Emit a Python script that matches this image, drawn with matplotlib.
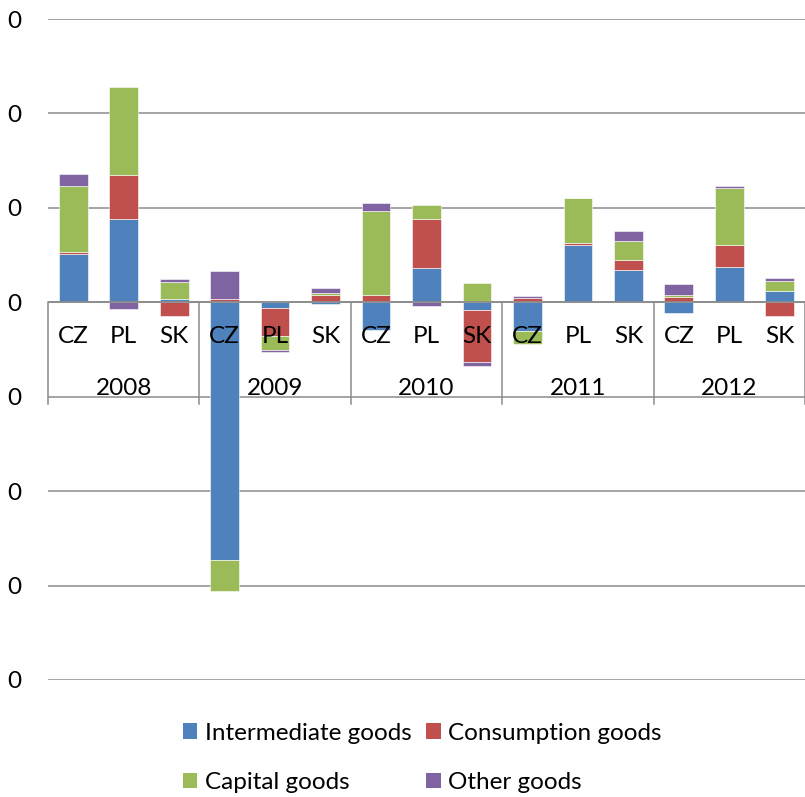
import numpy as np
import matplotlib
matplotlib.use("Agg")
import matplotlib.pyplot as plt
from matplotlib.patches import Patch

plt.rcParams['font.family'] = ['Lato', 'DejaVu Sans']

# --- data (one gridline = one unit) ---
years = ['2008', '2009', '2010', '2011', '2012']
countries = ['CZ', 'PL', 'SK']
categories = countries * len(years)

intermediate = [0.51, 0.88, 0.03, -2.73, -0.06, -0.02, -0.29, 0.36, -0.08,
                -0.30, 0.61, 0.34, -0.11, 0.37, 0.12]
consumption = [0.02, 0.47, -0.15, 0.03, -0.30, 0.08, 0.08, 0.52, -0.55,
               0.05, 0.02, 0.11, 0.06, 0.24, -0.15]
capital = [0.70, 0.93, 0.18, -0.33, -0.14, 0.02, 0.89, 0.15, 0.20,
           -0.14, 0.47, 0.20, 0.02, 0.60, 0.11]
other = [0.13, -0.07, 0.04, 0.30, -0.03, 0.05, 0.08, -0.04, -0.05,
         0.02, 0.00, 0.10, 0.11, 0.02, 0.03]

y_ticks = [3, 2, 1, 0, -1, -2, -3, -4]
y_tick_labels = ['0'] * len(y_ticks)

series = [
    ('Intermediate goods', intermediate, '#4F81BD'),
    ('Consumption goods', consumption, '#C0504D'),
    ('Capital goods', capital, '#9BBB59'),
    ('Other goods', other, '#8064A2'),
]

FS = 17.5
W, H = 805, 797
fig = plt.figure(figsize=(W / 100, H / 100), dpi=100)
ax = fig.add_axes([48 / W, 1 - 680 / H, 757 / W, 661 / H])

x = np.arange(len(categories))
pos_bottom = np.zeros(len(categories))
neg_bottom = np.zeros(len(categories))
for name, vals, color in series:
    vals = np.array(vals)
    bottom = np.where(vals >= 0, pos_bottom, neg_bottom)
    ax.bar(x, vals, width=0.57, bottom=bottom, color=color,
           edgecolor='white', linewidth=0.4, zorder=3)
    pos_bottom += np.where(vals >= 0, vals, 0)
    neg_bottom += np.where(vals < 0, vals, 0)

ax.set_xlim(-0.5, len(categories) - 0.5)
ax.set_ylim(-4, 3)
ax.set_yticks(y_ticks)
ax.set_yticklabels(y_tick_labels, fontsize=FS)
ax.set_xticks([])
ax.tick_params(axis='y', length=0, pad=19)
for s in ax.spines.values():
    s.set_visible(False)
for t in y_ticks:
    ax.axhline(t, color='#8C8C8C', linewidth=1.1, zorder=1)
ax.axhline(0, color='#8C8C8C', linewidth=1.3, zorder=4)

# multi-level category axis
for i, c in enumerate(categories):
    ax.text(i, -0.36, c, ha='center', va='center', fontsize=FS, zorder=5)
for j, yr in enumerate(years):
    ax.text(3 * j + 1, -0.91, yr, ha='center', va='center', fontsize=FS, zorder=5)
for k in range(len(years) + 1):
    ax.plot([3 * k - 0.5, 3 * k - 0.5], [0, -1.08], color='#8C8C8C',
            linewidth=1.1, zorder=4, clip_on=False)

# legend filled row by row like the original
order = [0, 2, 1, 3]
handles = [Patch(facecolor=series[i][2], edgecolor='none', label=series[i][0]) for i in order]
fig.legend(handles=handles, ncol=2, loc='center', bbox_to_anchor=(422 / W, 1 - 758 / H),
           frameon=False, fontsize=FS, handlelength=0.6, handleheight=0.6,
           handletextpad=0.3, columnspacing=0.6, labelspacing=1.17)

fig.savefig('out.png', dpi=100)
